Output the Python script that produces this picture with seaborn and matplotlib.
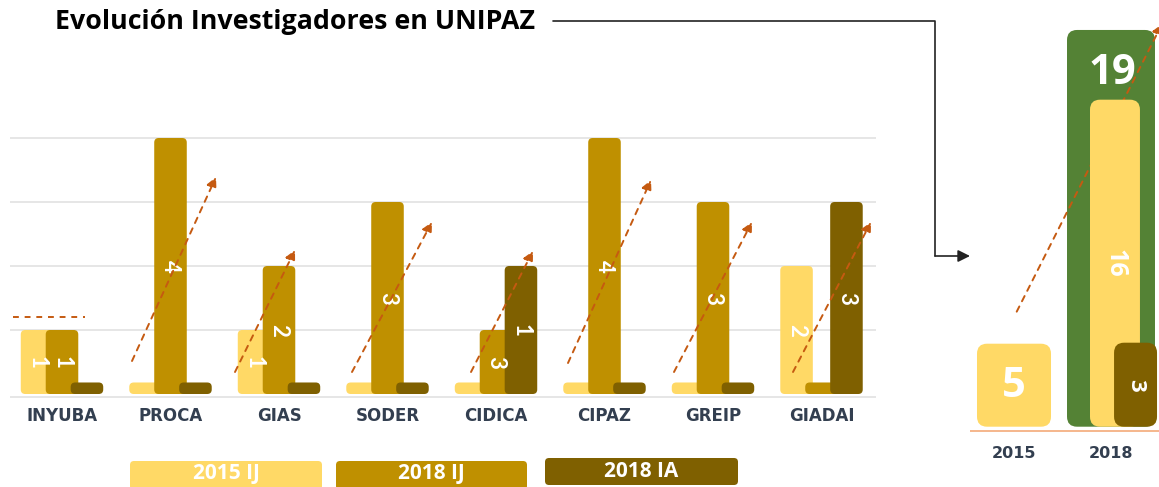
import numpy as np
import pandas as pd
import matplotlib
matplotlib.use("Agg")
import matplotlib.pyplot as plt
import seaborn as sns
from matplotlib.patches import FancyBboxPatch, Rectangle, FancyArrowPatch
from matplotlib.lines import Line2D

# ---------------- data ----------------
groups = ["INYUBA", "PROCA", "GIAS", "SODER", "CIDICA", "CIPAZ", "GREIP", "GIADAI"]
series = ["2015 IJ", "2018 IJ", "2018 IA"]
# bar heights as drawn in the original
h_2015_ij = [1, 0.18, 1, 0.18, 0.18, 0.18, 0.18, 2]
h_2018_ij = [1, 4, 2, 3, 1, 4, 3, 0.18]
h_2018_ia = [0.18, 0.18, 0.18, 0.18, 2, 0.18, 0.18, 3]
# value labels printed on the bars
lbl_2015_ij = ["1", "", "1", "", "", "", "", "2"]
lbl_2018_ij = ["1", "4", "2", "3", "3", "4", "3", ""]
lbl_2018_ia = ["", "", "", "", "1", "", "", "3"]

years = ["2015", "2018"]
val_total = [5, 19]          # 2015 total, 2018 total
val_2018_ij = 16
val_2018_ia = 3
# displayed heights in the summary panel (not proportional in original)
disp_total = [5, 23.9]
disp_2018_ij = 19.7
disp_2018_ia = 5.06

C15 = "#FFD966"
C18 = "#BF9000"
CIA = "#7F6000"
CGREEN = "#548235"
CORANGE = "#C55A11"
NAVY = "#333F50"
GRID = "#E4E4E4"

W, H = 1159, 487
fig = plt.figure(figsize=(W / 100, H / 100), dpi=100)
sns.set_style("white")
plt.rcParams["font.family"] = ["Lato", "DejaVu Sans"]


def fx(px):
    return px / W


def fy(py):
    return 1 - py / H


def round_new_patches(ax, before, r, ma, z):
    new = [p for p in ax.patches if p not in before]
    for p in new:
        if not isinstance(p, Rectangle):
            continue
        x, y = p.get_x(), p.get_y()
        w, h = p.get_width(), p.get_height()
        fc = p.get_facecolor()
        p.remove()
        fb = FancyBboxPatch((x, y), w, h,
                            boxstyle=f"round,pad=0,rounding_size={r}",
                            mutation_aspect=ma, fc=fc, ec="none", zorder=z)
        ax.add_patch(fb)


# ---------------- left chart ----------------
XU, X0 = 108.5, 62.0
YU, Y0 = 64.0, 394.0
xl = ((10 - X0) / XU, (876 - X0) / XU)
yl = (-0.1, 4.05)
left_px = X0 + xl[0] * XU
right_px = X0 + xl[1] * XU
bot_px = Y0 - yl[0] * YU
top_px = Y0 - yl[1] * YU
ax = fig.add_axes([fx(left_px), fy(bot_px), (right_px - left_px) / W, (bot_px - top_px) / H])

pos = np.arange(len(groups))
bw = 0.30
off = 0.23
ma = XU / YU
rr = 4.5 / XU
for k, (hs, col, o) in enumerate([(h_2015_ij, C15, -off), (h_2018_ij, C18, 0.0), (h_2018_ia, CIA, off)]):
    before = list(ax.patches)
    df = pd.DataFrame({"x": pos + o, "h": hs})
    sns.barplot(data=df, x="x", y="h", native_scale=True, orient="x", width=bw,
                color=col, saturation=1, errorbar=None, ax=ax)
    round_new_patches(ax, before, rr, ma, 2 + k)

for lbls, hs, o in [(lbl_2015_ij, h_2015_ij, -off), (lbl_2018_ij, h_2018_ij, 0.0), (lbl_2018_ia, h_2018_ia, off)]:
    for i, (t, h) in enumerate(zip(lbls, hs)):
        if t:
            ax.text(i + o, h / 2, t, rotation=-90, ha="center", va="center",
                    color="white", fontsize=16, fontweight="bold", zorder=10)

for g in [1, 2, 3, 4]:
    ax.axhline(g, color=GRID, lw=1.3, zorder=0)
ax.axhline(-0.05, color=GRID, lw=1.3, zorder=0)


def px2d(px, py):
    return ((px - X0) / XU, (Y0 - py) / YU)


# trend arrows (pixel positions)
arrow_px = [((132, 361), (216, 177)),
            ((235, 372), (295, 250)),
            ((352, 372), (432, 222)),
            ((471, 372), (533, 251)),
            ((568, 363), (651, 180)),
            ((674, 372), (752, 222)),
            ((793, 372), (871, 222))]
for s, e in arrow_px:
    ax.annotate("", xy=px2d(*e), xytext=px2d(*s), zorder=12, annotation_clip=False,
                arrowprops=dict(arrowstyle="-|>,head_length=0.6,head_width=0.3",
                                color=CORANGE, lw=1.4, linestyle=(0, (3, 3)),
                                shrinkA=0, shrinkB=0))
ls, le = px2d(13, 316.7), px2d(85, 316.7)
ax.plot([ls[0], le[0]], [ls[1], le[1]], color=CORANGE, lw=1.4, ls=(0, (3, 3)), zorder=12)

ax.set_xlim(*xl)
ax.set_ylim(*yl)
ax.set_xticks(pos)
ax.set_xticklabels(groups, fontsize=12, fontweight="bold", color=NAVY, family="DejaVu Sans")
ax.tick_params(axis="x", length=0, pad=5)
ax.set_yticks([])
ax.set_xlabel("")
ax.set_ylabel("")
for sp in ax.spines.values():
    sp.set_visible(False)
ax.patch.set_alpha(0)

# ---------------- right summary chart ----------------
XU2, X02 = 97.0, 1014.0
YU2, Y02 = 16.6, 426.7
xl2 = ((970 - X02) / XU2, (W - X02) / XU2)
yl2 = (-(433 - Y02) / YU2, Y02 / YU2)
ax2 = fig.add_axes([fx(970), fy(433), (W - 970) / W, 433 / H])
ma2 = XU2 / YU2
r2 = 10 / XU2

specs = [([0], [disp_total[0]], C15, 0.763, 2),
         ([1.0], [disp_total[1]], CGREEN, 0.907, 2),
         ([1.041], [disp_2018_ij], C15, 0.515, 4),
         ([1.253], [disp_2018_ia], CIA, 0.443, 5)]
for xs, hs, col, wd, z in specs:
    before = list(ax2.patches)
    df = pd.DataFrame({"x": xs, "h": hs})
    sns.barplot(data=df, x="x", y="h", native_scale=True, orient="x", width=wd,
                color=col, saturation=1, errorbar=None, ax=ax2)
    round_new_patches(ax2, before, r2, ma2, z)

ax2.axhline(-0.26, color="#F4B183", lw=1.3, zorder=1)
ax2.annotate("", xy=(1.526, 24.26), xytext=(0.028, 6.93), zorder=3, annotation_clip=False,
             arrowprops=dict(arrowstyle="-|>,head_length=0.6,head_width=0.3",
                             color=CORANGE, lw=1.4, linestyle=(0, (3, 3)),
                             shrinkA=0, shrinkB=0))

big = ["Open Sans", "DejaVu Sans"]
ax2.text(0, 2.45, str(val_total[0]), ha="center", va="center", color="white",
         fontsize=30, fontweight="bold", family=big, zorder=10)
ax2.text(1.01, 21.3, str(val_total[1]), ha="center", va="center", color="white",
         fontsize=30, fontweight="bold", family=big, zorder=10)
ax2.text(1.041, 9.86, str(val_2018_ij), ha="center", va="center", color="white",
         fontsize=18, fontweight="bold", family=big, rotation=-90, zorder=10)
ax2.text(1.253, 2.5, str(val_2018_ia), ha="center", va="center", color="white",
         fontsize=16, fontweight="bold", family=big, rotation=-90, zorder=10)

ax2.set_xlim(*xl2)
ax2.set_ylim(*yl2)
ax2.set_xticks([0, 1])
ax2.set_xticklabels(years, fontsize=11.5, fontweight="bold", color=NAVY, family="DejaVu Sans")
ax2.tick_params(axis="x", length=0, pad=9)
ax2.set_yticks([])
ax2.set_xlabel("")
ax2.set_ylabel("")
for sp in ax2.spines.values():
    sp.set_visible(False)
ax2.patch.set_alpha(0)

# ---------------- title & connector ----------------
fig.text(fx(55), fy(22), "Evolución Investigadores en UNIPAZ", ha="left", va="center",
         fontsize=19.3, fontweight="bold", color="black", family=["Open Sans", "DejaVu Sans"])
fig.add_artist(Line2D([fx(553), fx(935), fx(935)], [fy(21), fy(21), fy(256)],
                      transform=fig.transFigure, color="#222222", lw=1.2))
fig.add_artist(FancyArrowPatch((fx(935), fy(256)), (fx(970), fy(256)),
                               transform=fig.transFigure, arrowstyle="-|>,head_length=0.6,head_width=0.3",
                               mutation_scale=12, color="#222222", lw=1.2,
                               shrinkA=0, shrinkB=0))

# ---------------- legend ----------------
leg_boxes = [(130, 322, 461, 490), (336, 527, 461, 490), (545, 738, 458, 485)]
leg_cols = [C15, C18, CIA]
narrow = ["Liberation Sans Narrow", "Open Sans", "DejaVu Sans"]
for (x1, x2, y1, y2), col, name in zip(leg_boxes, leg_cols, series):
    fb = FancyBboxPatch((fx(x1), fy(y2)), (x2 - x1) / W, (y2 - y1) / H,
                        boxstyle=f"round,pad=0,rounding_size={4 / W}",
                        mutation_aspect=W / H, transform=fig.transFigure,
                        fc=col, ec="none")
    fig.add_artist(fb)
    cy = (y1 + 487) / 2 if y2 > 487 else (y1 + y2) / 2
    fig.text(fx((x1 + x2) / 2), fy(cy), name, ha="center", va="center",
             color="white", fontsize=15, fontweight="bold", family=narrow)

fig.savefig("out.png", dpi=100)
